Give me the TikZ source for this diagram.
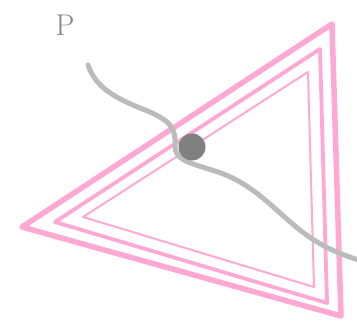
\documentclass[tikz,border=0pt]{standalone}
\definecolor{LinePink}{HTML}{FFA8D4}
\definecolor{CurveGray}{HTML}{BBBBBB}
\definecolor{DotGray}{HTML}{808080}
\definecolor{LabelGray}{HTML}{858585}
\usepackage{tikz}
\usetikzlibrary{positioning}
\tikzset{
  tri/.style={draw=LinePink, line join=round, line cap=round},
  wave/.style={draw=CurveGray, line width=5pt, line cap=round},
  dotnode/.style={circle, fill=DotGray, minimum size=27pt, inner sep=0pt}
}

\begin{document}
\begin{tikzpicture}[x=1pt, y=-1pt,
  outer/.style={tri, line width=5.5pt},
  middle/.style={tri, line width=3.8pt},
  inner/.style={tri, line width=2pt},
  label/.style={font=\fontsize{30}{32}\selectfont, text=LabelGray, inner sep=0pt}
]
\useasboundingbox (0,0) rectangle (357,321);
\draw[outer] (332,24) -- (22,227) -- (341,316) -- cycle;
\draw[middle] (320,49) -- (55,222) -- (327,303) -- cycle;
\draw[inner] (308,72) -- (83,217) -- (314,287) -- cycle;

\node[label] (p) at (65,25) {P};
\coordinate (wstart) at (88,65);
\coordinate (wend) at (362,261);
\draw[wave] (wstart) .. controls (96,88) and (115,98) .. (145,110)
  .. controls (170,120) and (176,128) .. (175,145)
  .. controls (174,160) and (190,163) .. (215,171)
  .. controls (250,182) and (270,205) .. (295,226)
  .. controls (315,243) and (335,253) .. (wend);
\node[dotnode] (dot) at (192,147) {};
\end{tikzpicture}
\end{document}
